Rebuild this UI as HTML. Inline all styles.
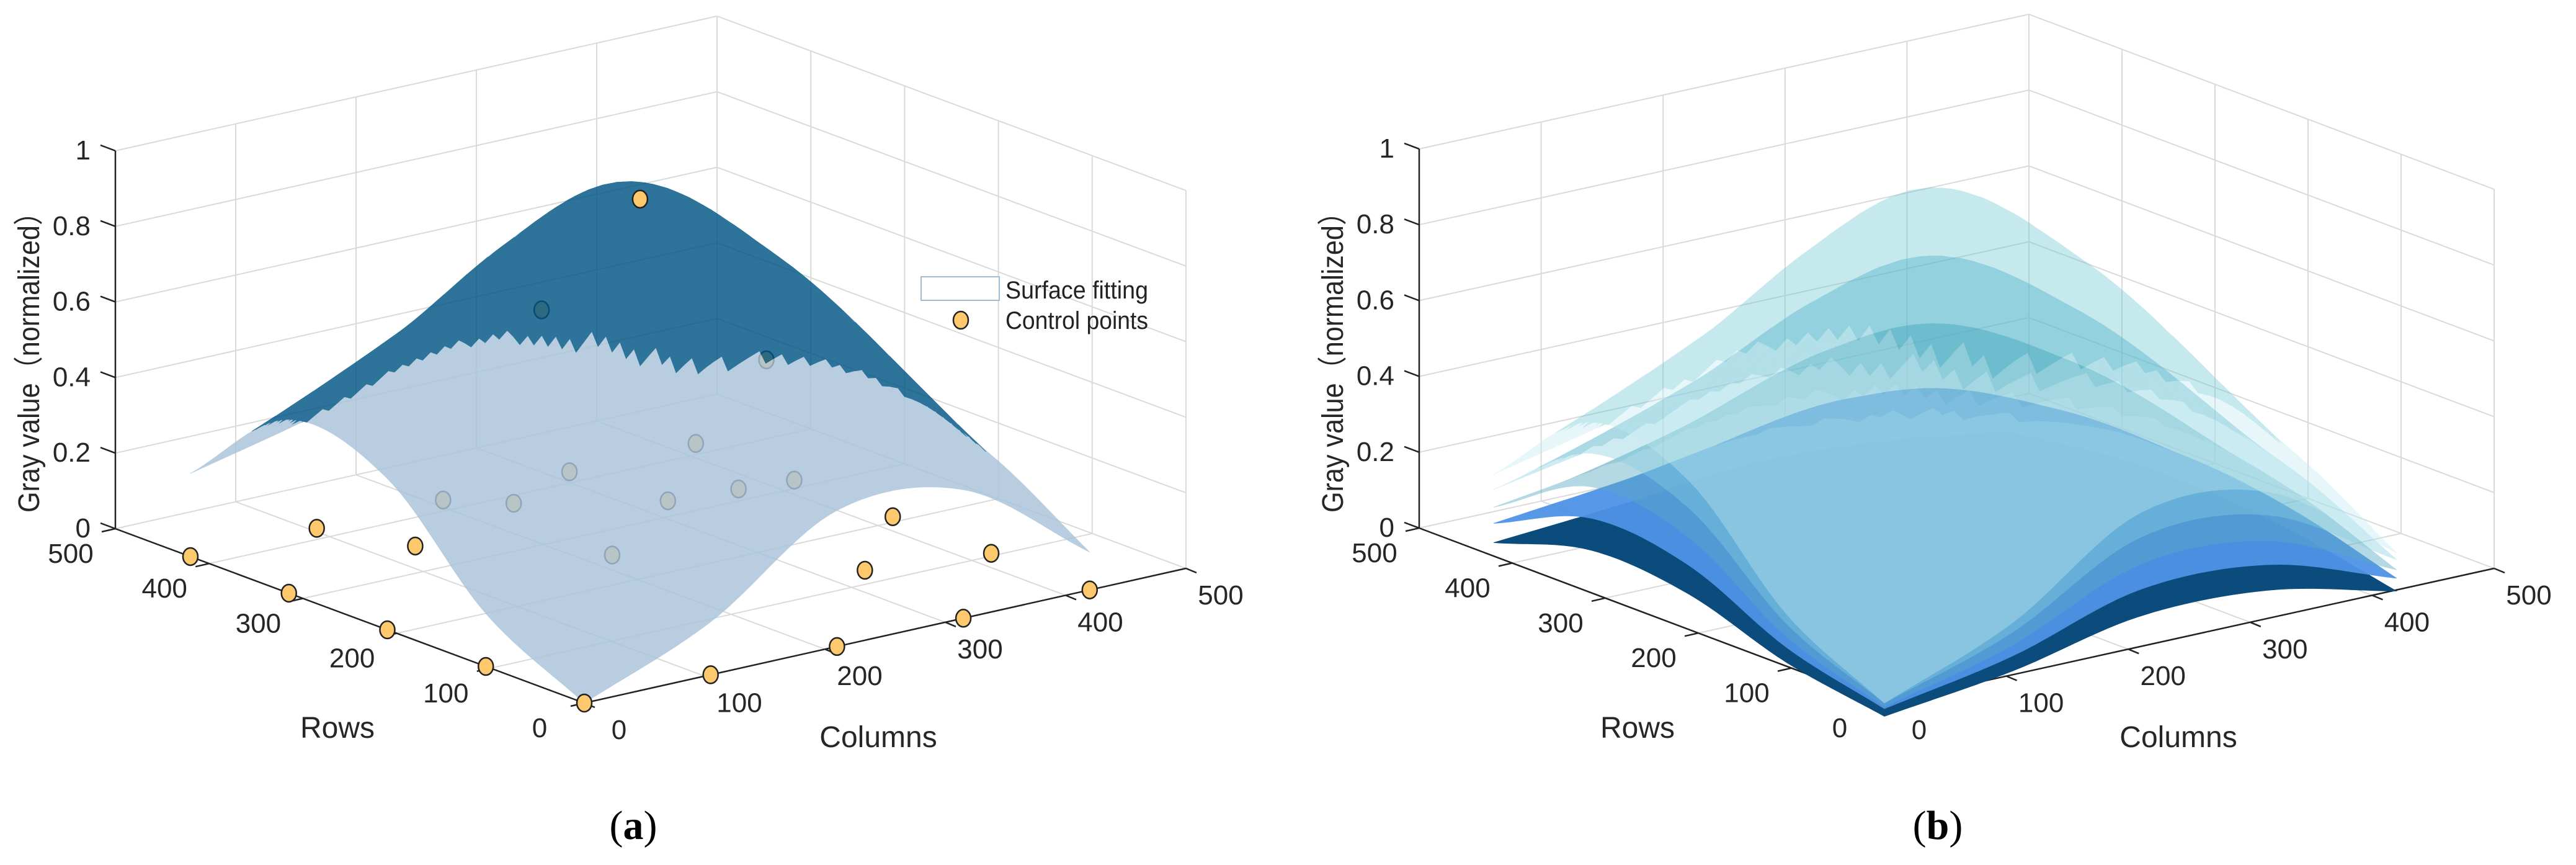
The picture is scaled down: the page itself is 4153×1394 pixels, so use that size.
<!DOCTYPE html>
<html><head><meta charset="utf-8"><style>html,body{margin:0;padding:0;background:#fff}svg{display:block}</style></head>
<body>
<svg id="fig" xmlns="http://www.w3.org/2000/svg" width="4153" height="1394" viewBox="0 0 4153 1394">
<rect width="4153" height="1394" fill="#fff"/>
<g id="panelA"></g>
<g id="panelB"></g>
<text x="1021" y="1352" font-family="Liberation Serif, serif" font-size="66" text-anchor="middle">(<tspan font-weight="bold">a</tspan>)</text>
<text x="3124" y="1352" font-family="Liberation Serif, serif" font-size="66" text-anchor="middle">(<tspan font-weight="bold">b</tspan>)</text>
</svg>
<script>
// ---- data ----
const gridPos = [0, 105, 210, 315, 420];
const axisTicks = [0, 100, 200, 300, 400, 500];
const axisTickLabels = ["0", "100", "200", "300", "400", "500"];
const zTicks = [0, 0.2, 0.4, 0.6, 0.8, 1];
const zTickLabels = ["0", "0.2", "0.4", "0.6", "0.8", "1"];
// fitted surface (panel a), rows index r, cols index c
const surfA = [
  [0.00, 0.14, 0.36, 0.34, 0.10],
  [0.14, 0.26, 0.52, 0.60, 0.26],
  [0.40, 0.70, 1.00, 0.78, 0.34],
  [0.46, 0.64, 0.82, 0.62, 0.32],
  [0.22, 0.30, 0.40, 0.35, 0.20]
];
// control points (panel a)
const ctrlZ = [
  [0, 0, 0, 0, 0],
  [0, 0.22, 0.32, 0.03, 0],
  [0, 0.26, 0.99, 0.49, 0],
  [0, 0.05, 0.60, 0.02, 0],
  [0, 0, 0, 0, 0]
];
// panel b layers: scale of base surface and offset
const layerScale = [0.98, 0.80, 0.63, 0.46, 0.32];
const layerOffset = [0.0, 0.0, -0.01, -0.015, -0.035];
const layerColors = [["#6cc6d4","#c2ebf1"],["#2fa2bd","#86cfe0"],["#238aa5","#5aa9c4"],["#0d5fd6","#4f93e6"],["#042c4e","#0c4c7c"]];
const layerOpacity = [0.38, 0.4, 0.45, 0.95, 1];

const NS = "http://www.w3.org/2000/svg";
function mk(tag, attrs, parent){const e=document.createElementNS(NS,tag);for(const k in attrs)e.setAttribute(k,attrs[k]);parent.appendChild(e);return e;}

const PA = {F:[942,1133], Lv:[-756,-281], Rv:[970,-217], zs:609};
const PB = {F:[3038,1133], Lv:[-750,-282], Rv:[983,-217], zs:611};
function proj(P,r,c,z){return [P.F[0]+r/500*P.Lv[0]+c/500*P.Rv[0], P.F[1]+r/500*P.Lv[1]+c/500*P.Rv[1]-z*P.zs];}
function depth(r,c,z){return r+0.779*c-676*z;}

function cr(p0,p1,p2,p3,t){return 0.5*((2*p1)+(-p0+p2)*t+(2*p0-5*p1+4*p2-p3)*t*t+(-p0+3*p1-3*p2+p3)*t*t*t);}
function row1(arr,u){const n=arr.length;let i=Math.min(Math.floor(u),n-2);const t=u-i;
  const g=k=>k<0?2*arr[0]-arr[1]:(k>=n?2*arr[n-1]-arr[n-2]:arr[k]);
  return cr(g(i-1),g(i),g(i+1),g(i+2),t);}
function sample(grid,r,c){const step=gridPos[1]-gridPos[0];const u=r/step,v=c/step;
  const cols=grid.map(rw=>row1(rw,v));return row1(cols,u);}

function drawAxes(g,P){
  const gc="#dadada";
  const line=(a,b,col,w,name)=>{const l=mk("line",{x1:a[0],y1:a[1],x2:b[0],y2:b[1],stroke:col,"stroke-width":w},g);
    };
  for(const t of axisTicks.slice(1,5)){line(proj(P,0,t,0),proj(P,500,t,0),gc,2,"floor-gridline");line(proj(P,t,0,0),proj(P,t,500,0),gc,2,"floor-gridline");}
  for(const t of axisTicks.slice(1,5)){line(proj(P,500,t,0),proj(P,500,t,1),gc,2,"wall-gridline");line(proj(P,t,500,0),proj(P,t,500,1),gc,2,"wall-gridline");}
  for(const z of zTicks.slice(1)){line(proj(P,500,0,z),proj(P,500,500,z),gc,2,"wall-gridline");line(proj(P,500,500,z),proj(P,0,500,z),gc,2,"wall-gridline");}
  line(proj(P,500,500,0),proj(P,500,500,1),gc,2,"box-edge");
  line(proj(P,0,500,0),proj(P,0,500,1),gc,2,"box-edge");
  line(proj(P,500,500,0),proj(P,500,0,0),gc,2,"box-edge");
  line(proj(P,500,500,0),proj(P,0,500,0),gc,2,"box-edge");
  line(proj(P,500,0,0),proj(P,500,0,1),"#222",2.5,"z-axis-line");
  line(proj(P,500,0,0),proj(P,0,0,0),"#222",2.5,"rows-axis-line");
  line(proj(P,0,0,0),proj(P,0,500,0),"#222",2.5,"columns-axis-line");
  const font="Liberation Sans, Noto Sans CJK SC, sans-serif";
  zTicks.forEach((z,i)=>{const p=proj(P,500,0,z);line(p,[p[0]-24,p[1]-9],"#222",2.5,"z-tick");
    const t=mk("text",{x:p[0]-40,y:p[1]+14,"font-family":font,"font-size":44,"text-anchor":"end",fill:"#262626"},g);
    t.textContent=zTickLabels[i];});
  axisTicks.forEach((v,i)=>{const p=proj(P,v,0,0);line(p,[p[0]-22,p[1]+5],"#222",2.5,"rows-tick");
    const t=mk("text",{x:p[0]-72,y:p[1]+55,"font-family":font,"font-size":44,"text-anchor":"middle",fill:"#262626"},g);
    t.textContent=axisTickLabels[i];
    const q=proj(P,0,v,0);line(q,[q[0]+17,q[1]+7],"#222",2.5,"columns-tick");
    const t2=mk("text",{x:q[0]+56,y:q[1]+58,"font-family":font,"font-size":44,"text-anchor":"middle",fill:"#262626"},g);
    t2.textContent=axisTickLabels[i];});
  const F=P.F;
  const rt=mk("text",{x:F[0]-398,y:F[1]+56,"font-family":font,"font-size":48,"text-anchor":"middle",fill:"#262626"},g);
  rt.textContent="Rows";
  const ct=mk("text",{x:F[0]+474,y:F[1]+71,"font-family":font,"font-size":48,"text-anchor":"middle",fill:"#262626"},g);
  ct.textContent="Columns";
  const zx=P.F[0]+P.Lv[0]-140, zy=573;
  const zt=mk("text",{x:0,y:0,"font-family":font,"font-size":48,"text-anchor":"middle",fill:"#262626",transform:`translate(${zx+17},${zy}) rotate(-90)`,textLength:506,lengthAdjust:"spacingAndGlyphs"},g);
  zt.textContent="Gray value（normalized）";
}

function inQuad(pt,q){let inside=false;for(let i=0,j=3;i<4;j=i++){const xi=q[i][0],yi=q[i][1],xj=q[j][0],yj=q[j][1];
  if(((yi>pt[1])!=(yj>pt[1]))&&(pt[0]<(xj-xi)*(pt[1]-yi)/(yj-yi)+xi))inside=!inside;}return inside;}

function buildFaces(P,grid,N){
  const max=gridPos[gridPos.length-1], d=max/N, faces=[];
  const Z=[];for(let i=0;i<=N;i++){Z.push([]);for(let j=0;j<=N;j++)Z[i].push(sample(grid,i*d,j*d));}
  for(let i=0;i<N;i++)for(let j=0;j<N;j++){
    const pts=[[i,j],[i+1,j],[i+1,j+1],[i,j+1]].map(([a,b])=>proj(P,a*d,b*d,Z[a][b]));
    const zc=(Z[i][j]+Z[i+1][j]+Z[i+1][j+1]+Z[i][j+1])/4;
    const cen=proj(P,(i+.5)*d,(j+.5)*d,zc);
    const xs=pts.map(p=>p[0]),ys=pts.map(p=>p[1]);
    faces.push({pts,cen,bb:[Math.min(...xs),Math.max(...xs),Math.min(...ys),Math.max(...ys)],D:depth((i+.5)*d,(j+.5)*d,zc)});}
  for(const f of faces){let n=0;const x=f.cen[0],y=f.cen[1];
    for(const g of faces){if(x<g.bb[0]||x>g.bb[1]||y<g.bb[2]||y>g.bb[3])continue;if(inQuad(f.cen,g.pts))n++;}
    f.n=Math.max(1,n);}
  faces.sort((a,b)=>b.D-a.D);return faces;
}
function drawFaces(g,faces,dark,light){
  for(const f of faces){const col=f.n>=2?dark:light;
    const p=mk("polygon",{points:f.pts.map(p=>p[0].toFixed(1)+","+p[1].toFixed(1)).join(" "),fill:col,stroke:col,"stroke-width":0.8},g);
    }
}

// ---- panel A ----
const gA=document.getElementById('panelA');
drawAxes(gA,PA);
const facesA=buildFaces(PA,surfA,64);
const behind=mk("g",{},gA);
const surfG=mk("g",{opacity:0.82},gA);
drawFaces(surfG,facesA,"#005584","#a9c4da");
const front=mk("g",{},gA);
gridPos.forEach((r,i)=>gridPos.forEach((c,j)=>{const z=ctrlZ[i][j];const p=proj(PA,r,c,z);const D=depth(r,c,z);
  let hid=false;for(const f of facesA){if(f.D<D-8&&inQuad(p,f.pts)){hid=true;break;}}
  const e=mk("ellipse",{cx:p[0],cy:p[1],rx:12,ry:14,fill:"#fec96c",stroke:"#222","stroke-width":2.5},hid?behind:front);
  }));
const lg=mk("g",{},gA);
const lb=mk("rect",{x:1485,y:446,width:126,height:38,fill:"#fff",stroke:"#9fbcd0","stroke-width":2},lg);

const lt1=mk("text",{x:1621,y:481,"font-family":"Liberation Sans, sans-serif","font-size":40,fill:"#222",textLength:230,lengthAdjust:"spacingAndGlyphs"},lg);
lt1.textContent="Surface fitting";
const lm=mk("ellipse",{cx:1549,cy:516,rx:12,ry:14,fill:"#fec96c",stroke:"#222","stroke-width":2.5},lg);

const lt2=mk("text",{x:1621,y:530,"font-family":"Liberation Sans, sans-serif","font-size":40,fill:"#222",textLength:230,lengthAdjust:"spacingAndGlyphs"},lg);
lt2.textContent="Control points";

// ---- panel B ----
const gB=document.getElementById('panelB');
drawAxes(gB,PB);
for(let k=layerScale.length-1;k>=0;k--){
  const grid=surfA.map(rw=>rw.map(v=>v*layerScale[k]+layerOffset[k]));
  const faces=buildFaces(PB,grid,44);
  const lgp=mk("g",{opacity:layerOpacity[k]},gB);
  
  drawFaces(lgp,faces,layerColors[k][0],layerColors[k][1]);
}
</script>
</body></html>
